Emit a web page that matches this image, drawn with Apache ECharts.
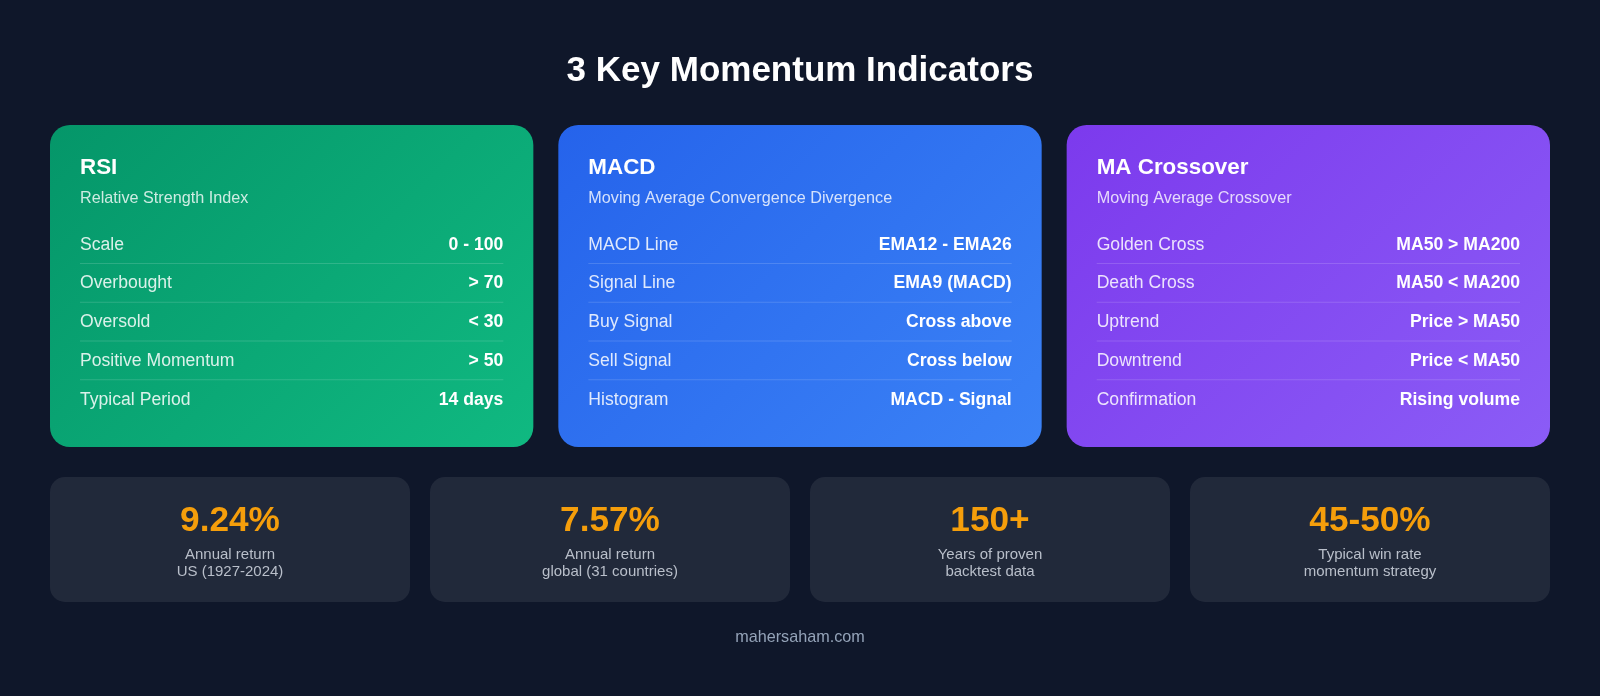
<!DOCTYPE html>
<html>
<head>
<meta charset="utf-8">
<title>3 Key Momentum Indicators</title>
<style>
html, body { margin: 0; padding: 0; background: #0f172a; }
#main { width: 1600px; height: 696px; }
</style>
<script src="https://cdn.jsdelivr.net/npm/echarts@6/dist/echarts.min.js"></script>
</head>
<body>
<div id="main"></div>
<script>
var chartTitle = "3 Key Momentum Indicators";
var footerText = "mahersaham.com";

var cardNames = ["RSI", "MACD", "MA Crossover"];
var cardSubs = ["Relative Strength Index", "Moving Average Convergence Divergence", "Moving Average Crossover"];
var rsiLabels = ["Scale", "Overbought", "Oversold", "Positive Momentum", "Typical Period"];
var rsiValues = ["0 - 100", "> 70", "< 30", "> 50", "14 days"];
var macdLabels = ["MACD Line", "Signal Line", "Buy Signal", "Sell Signal", "Histogram"];
var macdValues = ["EMA12 - EMA26", "EMA9 (MACD)", "Cross above", "Cross below", "MACD - Signal"];
var maLabels = ["Golden Cross", "Death Cross", "Uptrend", "Downtrend", "Confirmation"];
var maValues = ["MA50 > MA200", "MA50 < MA200", "Price > MA50", "Price < MA50", "Rising volume"];

var statValues = ["9.24%", "7.57%", "150+", "45-50%"];
var statLine1 = ["Annual return", "Annual return", "Years of proven", "Typical win rate"];
var statLine2 = ["US (1927-2024)", "global (31 countries)", "backtest data", "momentum strategy"];

var FONT = '"Liberation Sans", Arial, sans-serif';
var gradients = [["#059669", "#10b981"], ["#2563eb", "#3b82f6"], ["#7c3aed", "#8b5cf6"]];

// css style 135deg gradient, needs real coordinates because the cards are not square
function cardFill(x, y, w, h, colors) {
    var half = (w + h) * Math.SQRT1_2 / 2;
    var d = half * Math.SQRT1_2;
    var cx = x + w / 2, cy = y + h / 2;
    return new echarts.graphic.LinearGradient(cx - d, cy - d, cx + d, cy + d, [
        { offset: 0, color: colors[0] },
        { offset: 1, color: colors[1] }
    ], true);
}

function label(x, y, text, size, color, weight, align) {
    return {
        type: "text", silent: true,
        style: {
            x: x, y: y, text: text, fill: color,
            font: (weight || "normal") + " " + size + "px " + FONT,
            textAlign: align || "left", textVerticalAlign: "middle"
        }
    };
}

function buildCards() {
    var out = [];
    var rows = [[rsiLabels, rsiValues], [macdLabels, macdValues], [maLabels, maValues]];
    var w = 1450 / 3, h = 322, top = 125;
    for (let i = 0; i < 3; i++) {
        var x = 50 + i * (w + 25);
        out.push({
            type: "rect", silent: true,
            shape: { x: x, y: top, width: w, height: h, r: 20 },
            style: { fill: cardFill(x, top, w, h, gradients[i]) }
        });
        out.push(label(x + 30, 168, cardNames[i], 22.4, "#ffffff", "bold"));
        out.push(label(x + 30, 199, cardSubs[i], 16.2, "rgba(255,255,255,0.8)"));
        for (let r = 0; r < 5; r++) {
            var cy = 244.8 + r * 38.75;
            out.push(label(x + 30, cy, rows[i][0][r], 17.6, "rgba(255,255,255,0.85)"));
            out.push(label(x + w - 30, cy, rows[i][1][r], 17.6, "#ffffff", "bold", "right"));
            if (r < 4) {
                out.push({
                    type: "rect", silent: true,
                    shape: { x: x + 30, y: 263 + r * 38.75, width: w - 60, height: 1 },
                    style: { fill: "rgba(255,255,255,0.15)" }
                });
            }
        }
    }
    return out;
}

function buildStats() {
    var out = [];
    for (let i = 0; i < statValues.length; i++) {
        var x = 50 + i * 380;
        out.push({
            type: "rect", silent: true,
            shape: { x: x, y: 477, width: 360, height: 125, r: 15 },
            style: { fill: "rgba(255,255,255,0.08)" }
        });
        out.push(label(x + 180, 521, statValues[i], 35.2, "#f59e0b", "bold", "center"));
        out.push(label(x + 180, 555, statLine1[i], 15, "#b9bfca", "normal", "center"));
        out.push(label(x + 180, 572, statLine2[i], 15, "#b9bfca", "normal", "center"));
    }
    return out;
}

var myChart = echarts.init(document.getElementById("main"), null, { renderer: "canvas" });
myChart.setOption({
    backgroundColor: "#0f172a",
    animation: false,
    title: {
        text: chartTitle,
        left: "center",
        top: 49,
        textStyle: { color: "#ffffff", fontSize: 35, fontWeight: "bold", fontFamily: FONT }
    },
    graphic: { elements: buildCards().concat(buildStats()).concat([
        label(800, 638, footerText, 16.2, "#94a3b8", "normal", "center")
    ]) }
});
</script>
</body>
</html>
